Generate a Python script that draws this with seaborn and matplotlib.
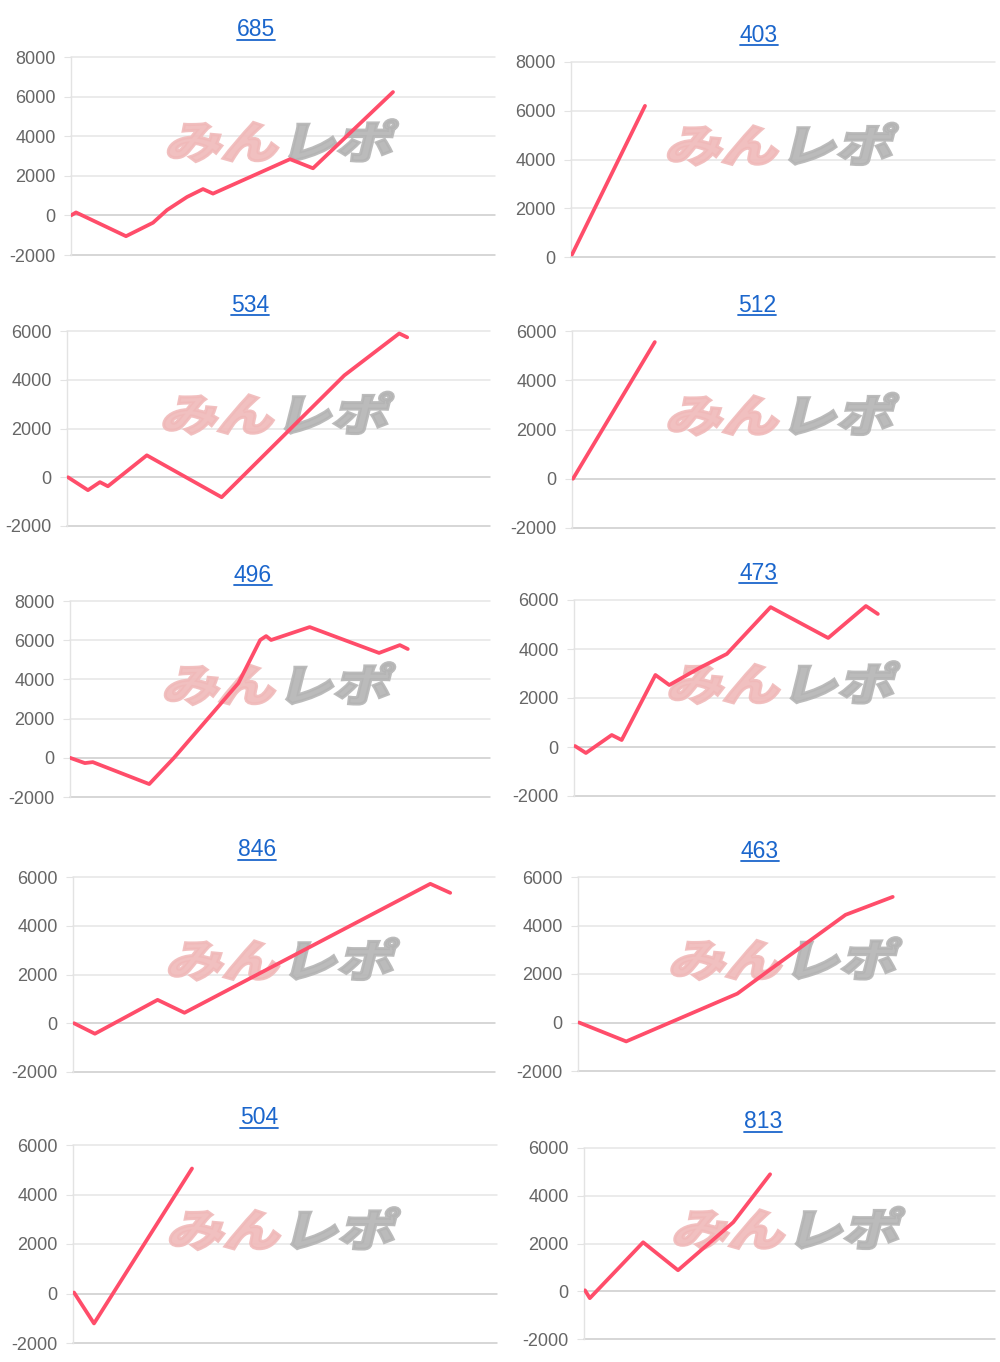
import matplotlib
matplotlib.use("Agg")
import matplotlib.pyplot as plt
import seaborn as sns
import pandas as pd
from matplotlib.textpath import TextPath
from matplotlib.patches import PathPatch
from matplotlib.font_manager import FontProperties
from matplotlib.transforms import Affine2D, IdentityTransform
from matplotlib.lines import Line2D

# data: machine number, game count and coin difference
titles = ["685", "403", "534", "512", "496", "473", "846", "463", "504", "813"]

games_685 = [0, 100, 1100, 1640, 1920, 2320, 2640, 2840, 4380, 4840, 6440]
diff_685 = [0, 150, -1050, -370, 270, 930, 1330, 1100, 2840, 2380, 6230]

games_403 = [20, 1480]
diff_403 = [100, 6200]

games_534 = [20, 420, 660, 820, 1600, 3100, 5560, 6660, 6820]
diff_534 = [0, -530, -200, -370, 900, -820, 4180, 5900, 5740]

games_512 = [20, 1660]
diff_512 = [0, 5550]

games_496 = [0, 300, 460, 1600, 2100, 2900, 3400, 3840, 3960, 4060, 4840, 6240, 6660, 6820]
diff_496 = [0, -270, -220, -1340, 0, 2340, 3810, 6010, 6210, 6010, 6670, 5350, 5750, 5550]

games_473 = [20, 240, 760, 960, 1640, 1920, 2520, 3080, 3960, 5120, 5880, 6120]
diff_473 = [40, -245, 490, 285, 2940, 2530, 3220, 3800, 5710, 4450, 5755, 5430]

games_846 = [20, 440, 1700, 2240, 7180, 7580]
diff_846 = [0, -430, 960, 430, 5720, 5350]

games_463 = [20, 980, 3240, 4040, 5440, 6400]
diff_463 = [0, -780, 1190, 2380, 4440, 5180]

games_504 = [20, 420, 2380]
diff_504 = [40, -1210, 5050]

games_813 = [20, 120, 1220, 1940, 3080, 3840]
diff_813 = [40, -290, 2050, 880, 2890, 4900]

all_games = [games_685, games_403, games_534, games_512, games_496,
             games_473, games_846, games_463, games_504, games_813]
all_diffs = [diff_685, diff_403, diff_534, diff_512, diff_496,
             diff_473, diff_846, diff_463, diff_504, diff_813]

y_ranges = [(-2000, 8000), (0, 8000), (-2000, 6000), (-2000, 6000), (-2000, 8000),
            (-2000, 6000), (-2000, 6000), (-2000, 6000), (-2000, 6000), (-2000, 6000)]

# panel boxes in pixels: left, right, top, bottom ; title centre
boxes = [(71, 495, 57, 255), (571, 995, 62, 257),
         (67, 490, 331, 526), (572, 995, 331, 528),
         (70, 490, 601, 797), (574, 995, 600, 796),
         (73, 495, 877, 1072), (578, 995, 877, 1071),
         (73, 497, 1145, 1343), (584, 995, 1148, 1339)]
title_pos = [(256, 30), (759, 35), (250, 305), (757, 305), (253, 575),
             (758, 573), (257, 850), (760, 851), (259, 1118), (763, 1122)]

W, H = 1000, 1362
X_MAX = 8480

sns.set_style("white")
plt.rcParams['font.family'] = ['Liberation Sans', 'DejaVu Sans']
plt.rcParams['axes.unicode_minus'] = False

fig = plt.figure(figsize=(W / 100, H / 100), dpi=100)
fig.patch.set_facecolor('white')

wm_font = FontProperties(family='Noto Sans CJK JP', weight=900)


def add_watermark(ax, cx, cy):
    # stylised "みんレポ" logo, slanted and stretched
    parts = [("みん", '#f0b9b9'), ("レポ", '#b4b4b4')]
    x = 0
    paths = []
    for txt, col in parts:
        tp = TextPath((0, 0), txt, size=44, prop=wm_font)
        tr = Affine2D().scale(1.28, 1.0).skew_deg(14, 0)
        p = tr.transform_path(tp)
        ext = p.get_extents()
        p = Affine2D().translate(x - ext.x0, 0).transform_path(p)
        x += ext.width + 12
        paths.append((p, col))
    total_w = x - 12
    ext0 = paths[0][0].get_extents()
    for p, col in paths:
        p = Affine2D().translate(cx - total_w / 2, (H - cy) - (ext0.y0 + ext0.height / 2)).transform_path(p)
        patch = PathPatch(p, facecolor=col, edgecolor=col, linewidth=2.2, alpha=0.9,
                          transform=IdentityTransform(), zorder=1.5)
        ax.add_patch(patch)


title_texts = []
for i in range(10):
    l, r, t, b = boxes[i]
    ax = fig.add_axes([l / W, 1 - b / H, (r - l) / W, (b - t) / H])
    ax.set_facecolor('none')

    df = pd.DataFrame({'games': all_games[i], 'diff': all_diffs[i]})

    ymin, ymax = y_ranges[i]
    ax.set_ylim(ymin, ymax)
    ax.set_xlim(0, X_MAX)
    ax.set_yticks(range(ymin, ymax + 1, 2000))
    ax.set_xticks([])

    for v in range(ymin, ymax + 1, 2000):
        c = '#cccccc' if v in (0, ymin) else '#e6e6e6'
        ax.axhline(v, color=c, lw=1.1, zorder=1, clip_on=False)

    add_watermark(ax, (l + r) / 2, (t + b) / 2 - 14)

    sns.lineplot(data=df, x='games', y='diff', ax=ax, color='#ff4d6a',
                 linewidth=2.7, zorder=3)

    for s in ['top', 'right', 'bottom']:
        ax.spines[s].set_visible(False)
    ax.spines['left'].set_color('#e3e3e3')
    ax.spines['left'].set_linewidth(1.0)
    ax.tick_params(axis='y', length=5, color='#e3e3e3', pad=6,
                   labelsize=13, labelcolor='#666666', left=True)
    ax.set_xlabel('')
    ax.set_ylabel('')

    tx, ty = title_pos[i]
    tt = fig.text(tx / W, 1 - ty / H, titles[i], ha='center', va='center',
                  fontsize=16.5, color='#1b66cc')
    title_texts.append(tt)

# underline the titles like links
fig.canvas.draw()
renderer = fig.canvas.get_renderer()
for tt in title_texts:
    bb = tt.get_window_extent(renderer)
    fig.add_artist(Line2D([bb.x0, bb.x1], [bb.y0 + 2, bb.y0 + 2],
                          color='#1b66cc', lw=1.3, transform=IdentityTransform()))

fig.savefig('out.png', dpi=100, facecolor='white')
